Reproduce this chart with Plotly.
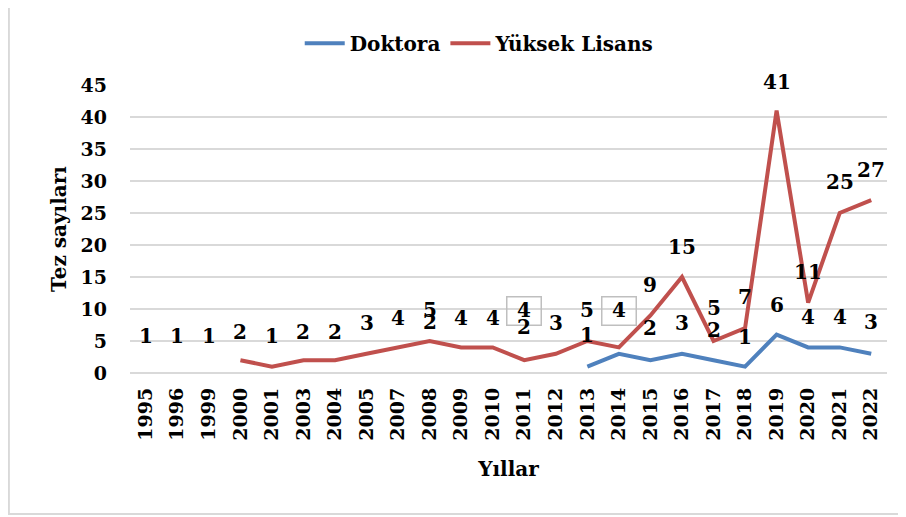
import plotly.graph_objects as go

# Yıllar (kategoriler)
years = ['1995', '1996', '1999', '2000', '2001', '2003', '2004', '2005', '2007', '2008',
         '2009', '2010', '2011', '2012', '2013', '2014', '2015', '2016', '2017', '2018',
         '2019', '2020', '2021', '2022']

# Çizgi değerleri
doktora = [None, None, None, None, None, None, None, None, None, None,
           None, None, None, None, 1, 3, 2, 3, 2, 1, 6, 4, 4, 3]
yuksek_lisans = [None, None, None, 2, 1, 2, 2, 3, 4, 5, 4, 4, 2, 3, 5, 4, 9, 15, 5, 7,
                 41, 11, 25, 27]

# Grafikteki etiket metinleri
yl_labels = [1, 1, 1, 2, 1, 2, 2, 3, 4, 5, 4, 4, 4, 3, 5, 4, 9, 15, 5, 7, 41, 11, 25, 27]
dr_labels = [None, None, None, None, None, None, None, None, None, 2,
             None, None, 2, None, 1, None, 2, 3, 2, 1, 6, 4, 4, 3]

# etiketlerin yükseklikleri (eksen birimi)
yl_label_y = [5.8, 5.8, 5.8, 6.4, 5.8, 6.4, 6.4, 7.8, 8.6, 9.8, 8.6, 8.6, 9.7, 7.8, 9.8,
              9.7, 13.8, 19.7, 10.2, 11.9, 45.5, 15.8, 29.8, 31.7]
dr_label_y = [None, None, None, None, None, None, None, None, None, 8.0,
              None, None, 7.2, None, 5.9, None, 7.0, 7.8, 6.7, 5.6, 10.6, 8.75, 8.75, 8.0]
boxed = ['2011', '2014']

FONT = 'DejaVu Serif'
BLUE = '#4F81BD'
RED = '#C0504D'
LBL = 20
YMAX = 45

fig = go.Figure()

fig.add_trace(go.Scatter(
    x=years, y=doktora, mode='lines', name='Doktora',
    line=dict(color=BLUE, width=4), connectgaps=False
))
fig.add_trace(go.Scatter(
    x=years, y=yuksek_lisans, mode='lines', name='Yüksek Lisans',
    line=dict(color=RED, width=4), connectgaps=False
))


def label(i, txt, ly):
    # eksen aralığı dışındaki etiket gizlenmesin diye paper koordinatı
    a = dict(x=i, xref='x', text=f'<b>{txt}</b>', showarrow=False,
             xanchor='center', yanchor='middle',
             font=dict(family=FONT, size=LBL, color='black'))
    if ly > YMAX:
        a.update(y=ly / YMAX, yref='paper')
    else:
        a.update(y=ly, yref='y')
    return a


# kategori ekseninde annotation x'i indeks olarak verilmeli
annotations = []
for i, (yr, txt, ly) in enumerate(zip(years, yl_labels, yl_label_y)):
    a = label(i, txt, ly)
    if yr in boxed:
        a.update(bordercolor='#BFBFBF', borderwidth=1.5, borderpad=3,
                 width=27, height=21, valign='bottom')
    annotations.append(a)
for i, (txt, ly) in enumerate(zip(dr_labels, dr_label_y)):
    if txt is None:
        continue
    annotations.append(label(i, txt, ly))

# sayfa gövdesinin 8px kenar boşluğu hesaba katıldı
fig.update_layout(
    width=898, height=509,
    margin=dict(l=122, r=19, t=77, b=144),
    paper_bgcolor='white', plot_bgcolor='white',
    font=dict(family=FONT, color='black'),
    showlegend=True,
    legend=dict(orientation='h', x=0.462, xanchor='center', y=1.145, yanchor='middle',
                font=dict(family=FONT, size=20, color='black', weight='bold'),
                itemwidth=40, tracegroupgap=0),
    annotations=annotations,
    shapes=[dict(type='rect', xref='paper', yref='paper',
                 x0=-0.16, x1=1.2, y0=-0.49, y1=1.5,
                 line=dict(color='#D9D9D9', width=2), layer='below')],
)

fig.update_xaxes(
    type='category', range=[-0.5, len(years) - 0.5], tickangle=-90,
    tickfont=dict(family=FONT, size=19, color='black', weight='bold'),
    title=dict(text='<b>Yıllar</b>', font=dict(family=FONT, size=20, color='black'), standoff=22),
    showgrid=False, showline=False, ticks='', ticklabelstandoff=10, automargin=False
)
fig.update_yaxes(
    range=[0, YMAX], dtick=5,
    tickfont=dict(family=FONT, size=19, color='black', weight='bold'),
    title=dict(text='<b>Tez sayıları</b>', font=dict(family=FONT, size=20, color='black'), standoff=8),
    showgrid=True, gridcolor='#D9D9D9', gridwidth=1.5,
    zeroline=True, zerolinecolor='#D9D9D9', zerolinewidth=1.5,
    showline=False, ticks='', ticklabelstandoff=22, automargin=False
)

fig.write_html('out.html')
